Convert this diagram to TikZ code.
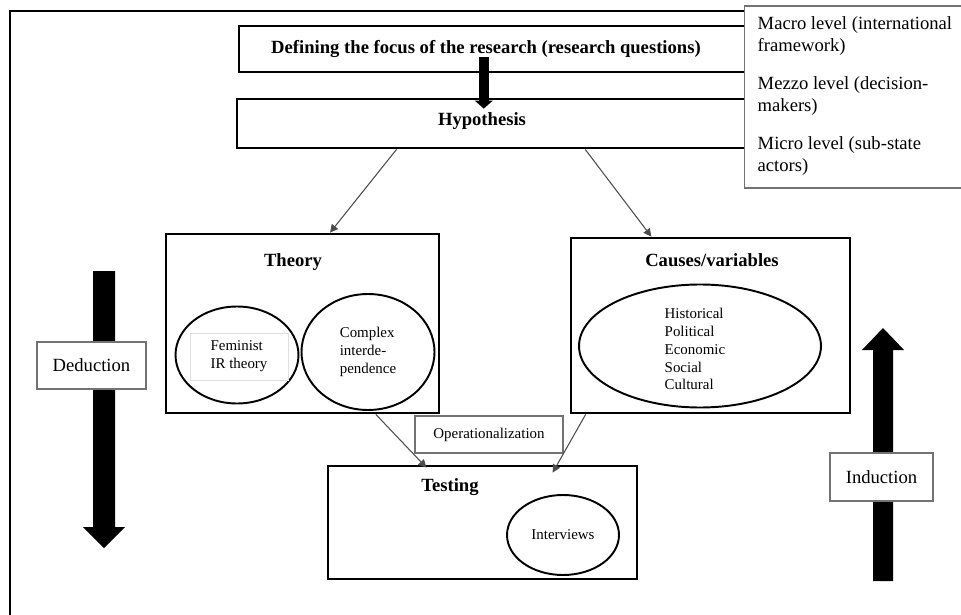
\documentclass[tikz,border=0pt]{standalone}
\usepackage{fontspec}
\setmainfont{Liberation Serif}
\usetikzlibrary{shapes,arrows.meta,positioning,calc}

\begin{document}
\begin{tikzpicture}[x=0.02cm, y=-0.02cm, thick]
        % Define block styles
        \tikzstyle{mainbox} = [rectangle, draw=black, line width=1.6pt, inner sep=0pt]
        \tikzstyle{thinbox} = [rectangle, draw=black!55, line width=0.6pt, fill=white, inner sep=0pt]
        \tikzstyle{roundnode} = [ellipse, draw=black, line width=1.1pt, inner sep=0pt, align=left]
        \tikzstyle{heading} = [font=\fontsize{10.6}{12.6}\selectfont\bfseries, inner sep=0pt]
        \tikzstyle{bodytext} = [font=\fontsize{10.6}{12.5}\selectfont, align=left]
        \tikzstyle{smalltext} = [font=\fontsize{8.5}{10.2}\selectfont, align=left]
        \tikzstyle{line} = [draw=black!70, line width=0.6pt, -{Triangle[length=4.5pt, width=4.5pt]}]
        \tikzstyle{bigline} = [draw, line width=5.5pt, -{Triangle[length=4.6pt, width=10.2pt]}]

        \clip (0,0) rectangle (961,615);

        % Outer frame
        \draw[line width=1.7pt] (800,11) -- (10,11) -- (10,620);

        % Define nodes
        \node [mainbox, minimum width=10.42cm, minimum height=0.92cm] (focus) at (499.5,49) {};
        \node [heading] (focustext) at (486,49) {Defining the focus of the research (research questions)};
        \node [mainbox, minimum width=10.46cm, minimum height=0.98cm] (hyp) at (498.5,123.5) {};
        \node [heading] (hyptext) at (482,121) {Hypothesis};

        \node [thinbox, minimum width=4.62cm, minimum height=3.64cm] (levels) at (859.5,97) {};
        \node [bodytext, anchor=west, inner sep=0pt] (levelstext) at (757,96)
            {Macro level (international\\framework)\\[9pt]Mezzo level (decision-\\makers)\\[9pt]Micro level (sub-state\\actors)};

        \node [mainbox, minimum width=5.46cm, minimum height=3.58cm] (theory) at (302.5,323.5) {};
        \node [heading] (theorytext) at (293,262) {Theory};
        \node [roundnode, minimum width=2.46cm, minimum height=1.94cm] (feminist) at (237,355) {};
        \node [smalltext, draw=black!12, line width=0.4pt, minimum width=1.96cm, minimum height=0.94cm] (femtext) at (239,356.5) {Feminist\\IR theory};
        \node [roundnode, smalltext, minimum width=2.66cm, minimum height=2.32cm] (complex) at (368,352) {Complex\\interde-\\pendence};

        \node [mainbox, minimum width=5.58cm, minimum height=3.5cm] (causes) at (710.5,325.5) {};
        \node [heading] (causestext) at (712,260) {Causes/variables};
        \node [roundnode, minimum width=4.84cm, minimum height=2.46cm] (factors) at (700,346) {};
        \node [smalltext, anchor=west, inner sep=0pt] (factorstext) at (664,349) {Historical\\Political\\Economic\\Social\\Cultural};

        \node [thinbox, smalltext, minimum width=2.96cm, minimum height=0.74cm] (oper) at (489,434.5) {Operationalization};

        \node [mainbox, minimum width=6.18cm, minimum height=2.26cm] (testing) at (482.5,522.5) {};
        \node [heading] (testingtext) at (450,487) {Testing};
        \node [roundnode, smalltext, minimum width=2.24cm, minimum height=1.6cm, align=center] (interviews) at (563,535) {Interviews};

        % Deduction and induction arrows
        \fill (93,271) -- (115,271) -- (115,527) -- (125,527) -- (104,548) -- (83,527) -- (93,527) -- cycle;
        \fill (873,581) -- (893,581) -- (893,350) -- (904,350) -- (883,328) -- (862,350) -- (873,350) -- cycle;
        \node [thinbox, bodytext, minimum width=2.18cm, minimum height=0.94cm, align=center] (deduction) at (91.5,365.5) {Deduction};
        \node [thinbox, bodytext, minimum width=2.06cm, minimum height=0.96cm, align=center] (induction) at (881.5,477) {Induction};

        % Connect nodes with paths
        \coordinate (fs) at ($(focus.north west)!0.47!(focus.north east) + (0,32)$);
        \coordinate (ht) at ($(hyp.north) + (0,11)$);
        \draw[bigline] (fs) -- (fs |- ht);
        \draw[line] ($(hyp.south west)!0.306!(hyp.south east)$) -- ($(theory.north west)!0.6!(theory.north east)$);
        \draw[line] ($(hyp.south west)!0.665!(hyp.south east)$) -- ($(causes.north west)!0.29!(causes.north east)$);
        \draw[line] ($(theory.south west)!0.766!(theory.south east)$) -- ($(testing.north west)!0.32!(testing.north east) + (0,3)$);
        \draw[line] ($(causes.south west)!0.057!(causes.south east)$) -- ($(testing.north west)!0.725!(testing.north east) + (0,8)$);

\end{tikzpicture}
\end{document}
